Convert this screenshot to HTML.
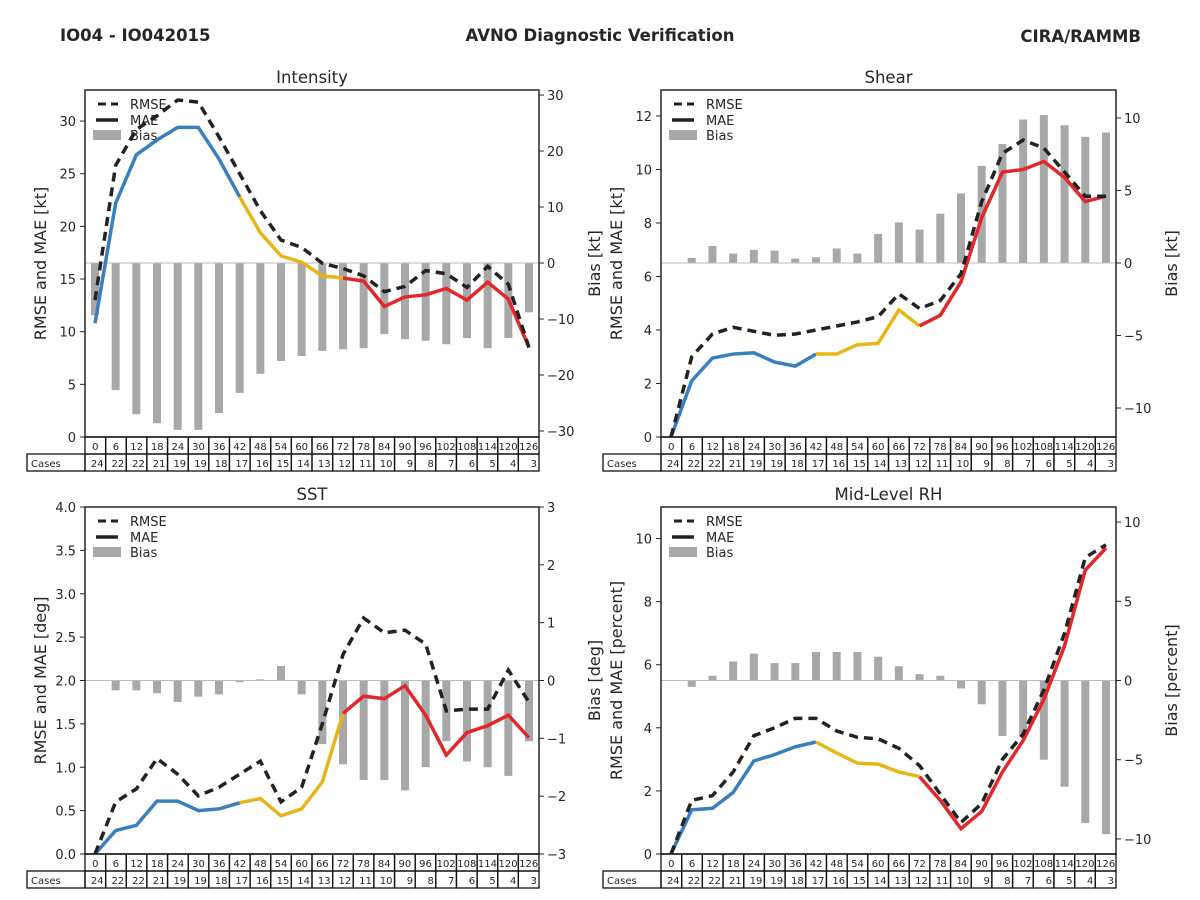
<!DOCTYPE html>
<html><head><meta charset="utf-8">
<style>
html,body{margin:0;padding:0;background:#fff;}
svg{display:block;font-family:"DejaVu Sans","Liberation Sans",sans-serif;}
</style></head>
<body>
<svg id="fig" width="1200" height="900" viewBox="0 0 1200 900">
<text x="60" y="41" font-size="16.5" font-weight="bold" fill="#262626">IO04 - IO042015</text>
<text x="600" y="41" font-size="16.5" font-weight="bold" fill="#262626" text-anchor="middle">AVNO Diagnostic Verification</text>
<text x="1141" y="42" font-size="16.5" font-weight="bold" fill="#262626" text-anchor="end">CIRA/RAMMB</text>
</svg>
<script>
const hours=[0,6,12,18,24,30,36,42,48,54,60,66,72,78,84,90,96,102,108,114,120,126];
const cases=[24,22,22,21,19,19,18,17,16,15,14,13,12,11,10,9,8,7,6,5,4,3];

const intRmse=[13,25.8,29.2,30.5,32,31.8,28.5,25,21.5,18.7,18,16.5,16,15.3,13.8,14.3,15.8,15.5,14.2,16.2,14.5,8.5];
const intMae=[10.8,22.2,26.8,28.2,29.4,29.4,26.4,22.8,19.4,17.2,16.6,15.3,15.1,14.8,12.4,13.3,13.5,14.1,13.0,14.7,13.1,8.5];
const intBias=[-9.3,-22.7,-27,-28.6,-29.8,-29.8,-26.8,-23.2,-19.8,-17.5,-16.6,-15.7,-15.4,-15.2,-12.7,-13.6,-13.9,-14.5,-13.4,-15.2,-13.4,-8.8];

const shrRmse=[0,3.0,3.85,4.1,3.95,3.8,3.85,4.0,4.15,4.3,4.5,5.35,4.8,5.1,6.1,8.8,10.6,11.1,10.8,9.9,9.0,9.0];
const shrMae=[0,2.1,2.95,3.1,3.15,2.8,2.65,3.1,3.1,3.45,3.5,4.75,4.15,4.55,5.8,8.2,9.9,10.0,10.3,9.7,8.8,9.0];
const shrBias=[0,0.35,1.17,0.65,0.9,0.85,0.3,0.4,1.0,0.65,2.0,2.8,2.3,3.4,4.8,6.7,8.2,9.9,10.2,9.5,8.7,9.0];

const sstRmse=[0,0.6,0.75,1.1,0.92,0.67,0.77,0.92,1.07,0.6,0.77,1.5,2.3,2.72,2.55,2.58,2.42,1.65,1.67,1.67,2.12,1.75];
const sstMae=[0,0.27,0.33,0.61,0.61,0.5,0.52,0.59,0.64,0.44,0.52,0.83,1.62,1.82,1.79,1.94,1.6,1.14,1.4,1.48,1.6,1.34];
const sstBias=[0,-0.17,-0.17,-0.22,-0.37,-0.28,-0.24,-0.03,0.02,0.25,-0.24,-1.1,-1.45,-1.72,-1.72,-1.9,-1.5,-1.05,-1.4,-1.5,-1.65,-1.05];

const rhRmse=[0,1.7,1.85,2.6,3.75,4.0,4.3,4.3,3.9,3.7,3.65,3.35,2.8,1.9,1.0,1.6,3.0,3.8,5.2,7.0,9.4,9.8];
const rhMae=[0,1.4,1.45,1.95,2.95,3.15,3.4,3.55,3.2,2.88,2.85,2.6,2.45,1.7,0.8,1.35,2.6,3.6,4.9,6.6,9.0,9.7];
const rhBias=[0,-0.4,0.3,1.2,1.7,1.1,1.1,1.8,1.8,1.8,1.5,0.9,0.4,0.3,-0.5,-1.5,-3.5,-3.5,-5,-6.7,-9,-9.7];

const intTicksL=[0,5,10,15,20,25,30];const intTicksR=[-30,-20,-10,0,10,20,30];
const shrTicksL=[0,2,4,6,8,10,12];const shrTicksR=[-10,-5,0,5,10];
const sstTicksL=[0,0.5,1,1.5,2,2.5,3,3.5,4];const sstTicksR=[-3,-2,-1,0,1,2,3];
const rhTicksL=[0,2,4,6,8,10];const rhTicksR=[-10,-5,0,5,10];

const NS='http://www.w3.org/2000/svg';
const fig=document.getElementById('fig');
function mk(tag,attrs,parent,txt){const e=document.createElementNS(NS,tag);for(const k in attrs)e.setAttribute(k,attrs[k]);if(txt!==undefined)e.textContent=txt;(parent||fig).appendChild(e);return e;}
function fmt(v,dec){const s=v.toFixed(dec);return v<0?'\u2212'+s.slice(1):s;}

function panel(p){
  const g=mk('g',{});
  
  
  const L=p.x0,R=p.x1,T=p.y0,B=p.y1;
  const xs=h=>L+10+(h/126)*(R-L-20);
  const yl=v=>B-(v-p.lmin)/(p.lmax-p.lmin)*(B-T);
  const yr=v=>B-(v-p.rmin)/(p.rmax-p.rmin)*(B-T);
  const t=mk('text',{x:(L+R)/2,y:T-7,'font-size':16.5,'text-anchor':'middle',fill:'#262626'},g,p.title);
  
  
  p.bias.forEach((b,i)=>{
    const y0=yr(0),y1=yr(b);
    const r=mk('rect',{x:xs(hours[i])-4,y:Math.min(y0,y1),width:8,height:Math.max(Math.abs(y1-y0),0.5),fill:'#a8a8a8'},g);
    
    
  });
  const zl=mk('line',{x1:L,x2:R,y1:yr(0),y2:yr(0),stroke:'#bbb','stroke-width':1},g);
  
  
  const lg=mk('g',{},g);
  
  
  const ly=T+14;
  mk('line',{x1:L+13,x2:L+33,y1:ly,y2:ly,stroke:'#222','stroke-width':3,'stroke-dasharray':'8,5'},lg);
  mk('text',{x:L+45,y:ly+5,'font-size':13,fill:'#262626'},lg,'RMSE');
  mk('line',{x1:L+11,x2:L+33,y1:ly+16,y2:ly+16,stroke:'#222','stroke-width':3.5},lg);
  mk('text',{x:L+45,y:ly+21,'font-size':13,fill:'#262626'},lg,'MAE');
  mk('rect',{x:L+8,y:ly+26,width:28,height:10,fill:'#a8a8a8'},lg);
  mk('text',{x:L+45,y:ly+36,'font-size':13,fill:'#262626'},lg,'Bias');
  const segs=[[0,7,'#3a7fbd','blue'],[7,12,'#e8b517','yellow'],[12,21,'#e3262a','red']];
  segs.forEach(s=>{
    let pts='';for(let i=s[0];i<=s[1];i++)pts+=xs(hours[i])+','+yl(p.mae[i])+' ';
    const pl=mk('polyline',{points:pts,fill:'none',stroke:s[2],'stroke-width':3.5,'stroke-linejoin':'miter'},g);
    
    
  });
  let pts='';p.rmse.forEach((v,i)=>pts+=xs(hours[i])+','+yl(v)+' ');
  const rl=mk('polyline',{points:pts,fill:'none',stroke:'#222','stroke-width':3.5,'stroke-dasharray':'9,6'},g);
  
  
  const fr=mk('rect',{x:L,y:T,width:R-L,height:B-T,fill:'none',stroke:'#262626','stroke-width':1.5},g);
  
  
  p.tl.forEach(v=>{
    mk('line',{x1:L-5,x2:L,y1:yl(v),y2:yl(v),stroke:'#262626','stroke-width':1},g);
    const tx=mk('text',{x:L-9,y:yl(v)+5,'font-size':13,'text-anchor':'end',fill:'#262626'},g,fmt(v,p.ldec));
    
    
  });
  p.tr.forEach(v=>{
    mk('line',{x1:R,x2:R+5,y1:yr(v),y2:yr(v),stroke:'#262626','stroke-width':1},g);
    const tx=mk('text',{x:R+8,y:yr(v)+5,'font-size':13,fill:'#262626'},g,fmt(v,0));
    
    
  });
  const ylab=mk('text',{transform:`translate(${L-39},${(T+B)/2}) rotate(-90)`,'font-size':16,'text-anchor':'middle',fill:'#262626'},g,p.llab);
  
  
  const rlab=mk('text',{transform:`translate(${R+61},${(T+B)/2}) rotate(-90)`,'font-size':16,'text-anchor':'middle',fill:'#262626'},g,p.rlab);
  
  
  const tb=mk('g',{},g);
  
  
  const cw=(R-L)/22;
  hours.forEach((h,i)=>{
    const cx=L+i*cw;
    mk('rect',{x:cx,y:B,width:cw,height:17,fill:'none',stroke:'#111','stroke-width':1.3},tb);
    mk('rect',{x:cx,y:B+17,width:cw,height:17,fill:'none',stroke:'#111','stroke-width':1.3},tb);
    mk('text',{x:cx+cw/2,y:B+13,'font-size':10,'text-anchor':'middle',fill:'#262626'},tb,String(h));
    mk('text',{x:cx+cw-2,y:B+30,'font-size':10,'text-anchor':'end',fill:'#262626'},tb,String(cases[i]));
  });
  mk('rect',{x:L-58,y:B+17,width:58,height:17,fill:'none',stroke:'#111','stroke-width':1.3},tb);
  mk('text',{x:L-54,y:B+30,'font-size':10,fill:'#262626'},tb,'Cases');
}

panel({name:'intensity',title:'Intensity',x0:85,x1:539,y0:90,y1:437,lmin:0,lmax:32.95,rmin:-31.07,rmax:30.9,rmse:intRmse,mae:intMae,bias:intBias,tl:intTicksL,tr:intTicksR,ldec:0,llab:'RMSE and MAE [kt]',rlab:'Bias [kt]'});
panel({name:'shear',title:'Shear',x0:661,x1:1116,y0:90,y1:437,lmin:0,lmax:12.97,rmin:-12,rmax:11.93,rmse:shrRmse,mae:shrMae,bias:shrBias,tl:shrTicksL,tr:shrTicksR,ldec:0,llab:'RMSE and MAE [kt]',rlab:'Bias [kt]'});
panel({name:'sst',title:'SST',x0:85,x1:539,y0:507,y1:854,lmin:0,lmax:4,rmin:-3,rmax:3,rmse:sstRmse,mae:sstMae,bias:sstBias,tl:sstTicksL,tr:sstTicksR,ldec:1,llab:'RMSE and MAE [deg]',rlab:'Bias [deg]'});
panel({name:'mid-level-rh',title:'Mid-Level RH',x0:661,x1:1116,y0:507,y1:854,lmin:0,lmax:11.0,rmin:-10.95,rmax:10.95,rmse:rhRmse,mae:rhMae,bias:rhBias,tl:rhTicksL,tr:rhTicksR,ldec:0,llab:'RMSE and MAE [percent]',rlab:'Bias [percent]'});
</script>
</body></html>
